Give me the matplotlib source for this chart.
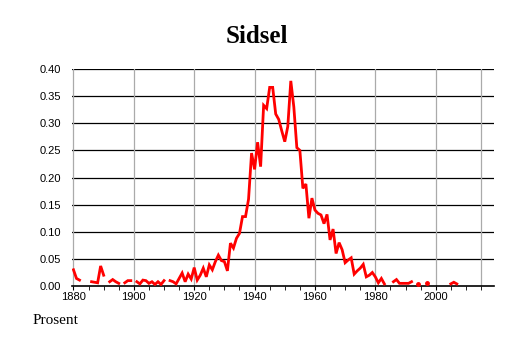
import numpy as np
import matplotlib
matplotlib.use("Agg")
import matplotlib.pyplot as plt
from matplotlib.ticker import MultipleLocator

nan = np.nan

# yearly share (percent) of the name, gaps where no value was recorded
years = np.arange(1880, 2009)
share = [
    0.030, 0.014, 0.011, nan, nan, nan, 0.008, 0.007, 0.006, 0.037,   # 1880-1889
    0.020, nan, 0.008, 0.012, 0.008, 0.005, nan, 0.006, 0.010, 0.010,  # 1890-1899
    nan, 0.008, 0.004, 0.011, 0.010, 0.005, 0.008, 0.003, 0.008, 0.003,  # 1900-1909
    0.010, nan, 0.010, 0.008, 0.004, 0.014, 0.024, 0.008, 0.022, 0.013,  # 1910-1919
    0.034, 0.011, 0.020, 0.033, 0.017, 0.039, 0.030, 0.045, 0.057, 0.047,  # 1920-1929
    0.045, 0.028, 0.079, 0.070, 0.088, 0.097, 0.128, 0.128, 0.160, 0.245,  # 1930-1939
    0.215, 0.265, 0.220, 0.333, 0.327, 0.366, 0.366, 0.317, 0.307, 0.286,  # 1940-1949
    0.266, 0.294, 0.378, 0.330, 0.255, 0.250, 0.180, 0.188, 0.125, 0.162,  # 1950-1959
    0.140, 0.134, 0.131, 0.115, 0.132, 0.085, 0.105, 0.060, 0.080, 0.067,  # 1960-1969
    0.043, 0.048, 0.052, 0.022, 0.028, 0.033, 0.040, 0.017, 0.020, 0.025,  # 1970-1979
    0.017, 0.006, 0.014, 0.004, nan, nan, 0.008, 0.012, 0.005, 0.005,  # 1980-1989
    0.005, 0.005, 0.008, nan, 0.004, nan, nan, 0.005, nan, nan,  # 1990-1999
    nan, nan, nan, nan, nan, 0.004, 0.007, 0.004, nan,  # 2000-2008
]
share = np.array(share)

fig = plt.figure(figsize=(5.14, 3.43), dpi=100)
ax = fig.add_axes([0.140, 0.166, 0.821, 0.633])

ax.plot(years, share, color="#ff0000", lw=2.0, solid_joinstyle="miter", zorder=3)

# single years between gaps get a dot so they stay visible
prev = np.r_[nan, share[:-1]]
nxt = np.r_[share[1:], nan]
lone = ~np.isnan(share) & np.isnan(prev) & np.isnan(nxt)
ax.plot(years[lone], share[lone], "o", color="#ff0000", ms=2.5, zorder=3)

ax.set_xlim(1879.5, 2019.3)
ax.set_ylim(0, 0.40)

ax.set_yticks(np.arange(0, 0.401, 0.05))
ax.set_yticklabels([f"{v:.2f}" for v in np.arange(0, 0.401, 0.05)])
ax.set_xticks(range(1880, 2001, 20))
ax.xaxis.set_minor_locator(MultipleLocator(5))

for y in np.arange(0.05, 0.401, 0.05):
    ax.axhline(y, color="black", lw=0.9, zorder=1)
for x in list(range(1880, 2001, 20)) + [2015]:
    ax.axvline(x, color="#aaaaaa", lw=0.9, zorder=1)

for side in ("top", "right", "left"):
    ax.spines[side].set_visible(False)
ax.spines["bottom"].set_linewidth(1.2)

ax.tick_params(axis="y", length=0, pad=8, labelsize=8)
ax.tick_params(axis="x", which="major", length=3, labelsize=8, pad=1)
ax.tick_params(axis="x", which="minor", length=3)
for lab in ax.get_xticklabels() + ax.get_yticklabels():
    lab.set_family("Liberation Sans")

fig.text(0.5, 0.875, "Sidsel", ha="center", va="baseline",
         fontsize=18, fontweight="bold", family="Liberation Serif")
fig.text(0.064, 0.056, "Prosent", ha="left", va="baseline",
         fontsize=11, family="Liberation Serif")

fig.savefig("out.png", dpi=100)
